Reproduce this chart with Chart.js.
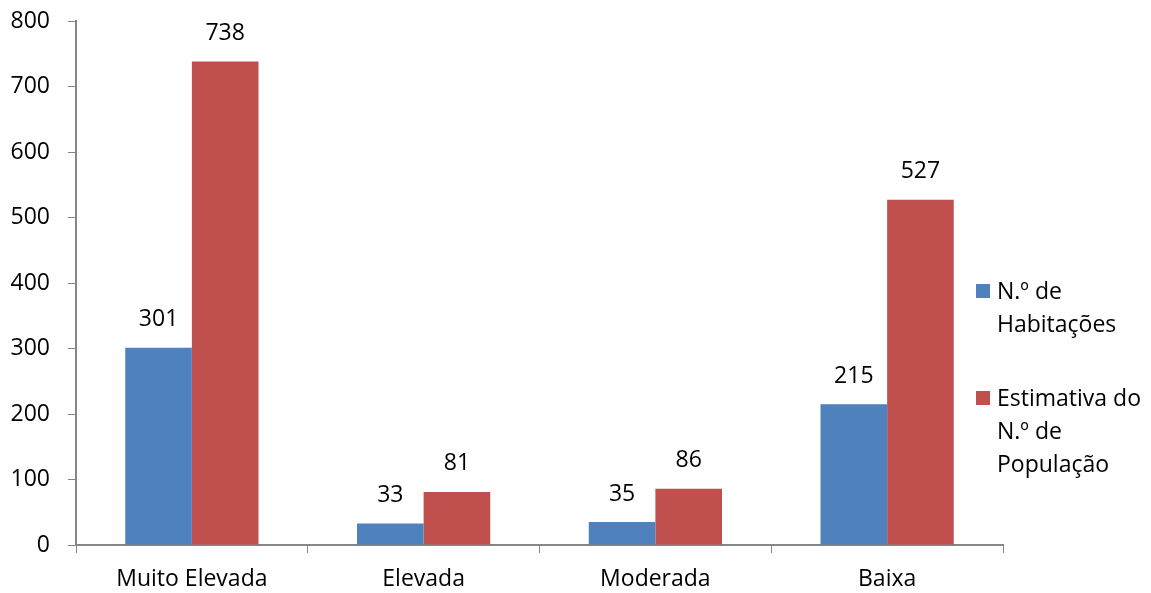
<!DOCTYPE html>
<html>
<head>
<meta charset="utf-8">
<script src="https://cdn.jsdelivr.net/npm/chart.js@4/dist/chart.umd.min.js"></script>
<style>
  html, body { margin: 0; padding: 0; background: #fff; }
  #wrap { position: relative; width: 1151px; height: 593px; }
  #legend { position: absolute; left: 976px; top: 274px; font-family: 'Open Sans', sans-serif; font-size: 23px; color: #000; line-height: 33px; }
  .item { position: relative; padding-left: 21px; margin-bottom: 41px; width: 166px; }
  .box { position: absolute; left: 0; top: 10px; width: 14px; height: 14px; }
</style>
</head>
<body>
<div id="wrap">
  <canvas id="chart" width="1151" height="593"></canvas>
  <div id="legend"></div>
</div>
<script>
var categories = ['Muito Elevada', 'Elevada', 'Moderada', 'Baixa'];
var habitacoes = [301, 33, 35, 215];
var populacao = [738, 81, 86, 527];
var seriesNames = ['N.º de Habitações', 'Estimativa do N.º de População'];
var seriesColors = ['#4F81BD', '#C0504D'];

var FONT = { family: "'Open Sans', sans-serif", size: 23 };

// labels above each bar
var barLabels = {
    id: 'barLabels',
    afterDatasetsDraw: function (chart) {
        var ctx = chart.ctx;
        ctx.save();
        ctx.font = FONT.size + 'px ' + FONT.family;
        ctx.fillStyle = '#000';
        ctx.textAlign = 'center';
        ctx.textBaseline = 'middle';
        chart.data.datasets.forEach(function (ds, i) {
            chart.getDatasetMeta(i).data.forEach(function (bar, j) {
                ctx.fillText(ds.data[j], bar.x, bar.y - 28);
            });
        });
        ctx.restore();
    }
};

new Chart(document.getElementById('chart'), {
    type: 'bar',
    data: {
        labels: categories,
        datasets: [
            { label: seriesNames[0], data: habitacoes, backgroundColor: seriesColors[0] },
            { label: seriesNames[1], data: populacao, backgroundColor: seriesColors[1] }
        ]
    },
    options: {
        responsive: false,
        animation: false,
        devicePixelRatio: 1,
        layout: { padding: { left: 0, right: 148, top: 21, bottom: 0 } },
        datasets: { bar: { barPercentage: 1, categoryPercentage: 0.575, borderWidth: 0 } },
        plugins: { legend: { display: false }, tooltip: { enabled: false } },
        scales: {
            x: {
                grid: { drawOnChartArea: false, drawTicks: true, tickLength: 8, color: '#868686', offset: true },
                border: { color: '#868686', width: 2 },
                ticks: { color: '#000', font: FONT, padding: 13, maxRotation: 0 },
                afterFit: function (s) { s.height = 48; s.paddingLeft = 0; s.paddingRight = 0; }
            },
            y: {
                min: 0, max: 800,
                grid: { drawOnChartArea: false, drawTicks: true, tickLength: 8, color: '#868686' },
                border: { color: '#868686', width: 2 },
                ticks: { stepSize: 100, color: '#000', font: FONT, padding: 18 },
                afterFit: function (s) { s.width = 76; s.paddingTop = 0; s.paddingBottom = 0; }
            }
        }
    },
    plugins: [barLabels]
});

var legend = document.getElementById('legend');
seriesNames.forEach(function (name, i) {
    var item = document.createElement('div');
    item.className = 'item';
    var box = document.createElement('span');
    box.className = 'box';
    box.style.background = seriesColors[i];
    item.appendChild(box);
    item.appendChild(document.createTextNode(name));
    legend.appendChild(item);
});
</script>
</body>
</html>
